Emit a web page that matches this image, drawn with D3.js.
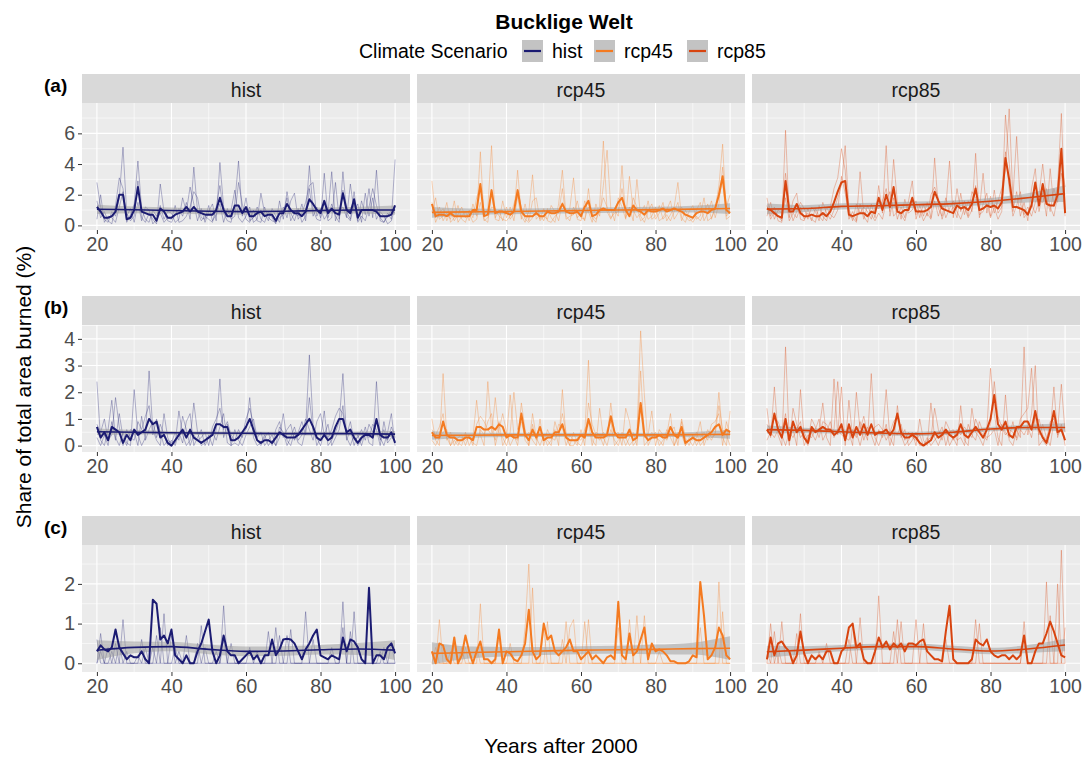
<!DOCTYPE html>
<html>
<head>
<meta charset="utf-8">
<script src="https://cdn.jsdelivr.net/npm/d3@7/dist/d3.min.js"></script>
<style>
  body { margin: 0; background: #fff; }
  text { font-family: "Liberation Sans", Arial, sans-serif; }
</style>
</head>
<body>
<div id="chart"></div>
<script>
// ---- data -------------------------------------------------------------
const scenarios = ["hist", "rcp45", "rcp85"]
const rowLabels = ["(a)", "(b)", "(c)"]
const xTicks = [20, 40, 60, 80, 100]
const yTicksA = [0, 2, 4, 6]
const yTicksB = [0, 1, 2, 3, 4]
const yTicksC = [0, 1, 2]
const trendYears = [20, 30, 40, 50, 60, 70, 80, 90, 100]
const years = d3.range(20, 101)

// (a) mean lines, years 20..100
const a_hist_mean = [1.2,0.9,0.5,0.5,0.6,0.9,2.0,2.0,0.4,0.5, 1.0,2.5,0.9,0.8,0.7,0.7,0.3,1.1,0.9,0.5, 0.5,0.7,0.8,0.9,1.2,0.9,1.2,0.9,0.8,0.7, 0.7,0.7,1.0,1.8,1.0,0.6,0.6,1.3,1.3,0.8, 1.2,0.6,0.6,0.8,0.9,0.6,0.7,0.7,0.3,0.8, 0.8,1.4,1.0,0.8,0.8,0.6,0.9,1.7,1.4,1.0, 0.8,1.6,0.8,1.1,0.8,0.7,2.1,1.0,0.8,1.7, 0.5,1.0,1.0,1.0,1.0,0.9,0.6,0.6,0.6,0.7, 1.3]
const a_rcp45_mean = [1.4,0.6,0.7,0.7,0.6,0.8,0.6,0.6,0.6,0.6, 0.6,1.0,1.0,2.7,0.6,0.7,2.3,0.8,0.9,0.9, 0.8,0.7,0.9,2.3,0.9,0.6,0.6,0.6,0.8,0.6, 0.6,0.9,0.8,0.8,0.9,1.4,0.9,0.8,0.8,0.9, 0.6,1.2,1.6,0.6,0.7,1.0,1.1,1.0,1.0,1.0, 1.5,1.8,1.0,0.6,1.3,1.0,0.9,0.7,1.0,0.9, 0.9,1.0,1.1,0.9,1.0,1.1,1.0,0.9,0.7,0.6, 0.5,0.8,0.9,0.9,0.8,1.0,1.1,2.0,3.2,1.0, 0.8]
const a_rcp85_mean = [1.1,1.0,0.8,0.6,0.5,2.9,0.9,0.9,1.4,0.8, 0.6,0.6,0.7,0.6,0.6,0.8,0.6,0.9,1.5,2.2, 2.8,2.9,0.7,0.6,0.7,0.8,0.8,0.6,0.9,0.8, 1.8,1.0,2.0,1.2,2.5,0.9,0.8,1.0,1.0,1.8, 0.9,0.9,0.9,1.0,1.2,2.2,1.6,1.1,1.0,0.9, 0.8,1.3,1.1,1.2,1.0,1.4,2.4,1.0,1.1,1.3, 1.2,1.3,1.1,1.5,4.4,3.0,1.2,1.2,1.1,1.0, 0.7,1.3,2.8,1.3,2.7,1.4,1.3,1.3,2.0,5.0, 0.8]

// (a) single runs
const a_hist_runs = [
  [2.8,1.2,0.4,0.2,0.9,0.6,1.8,5.1,0.8,0.3, 0.6,2.9,0.5,0.2,0.8,0.4,0.1,2.7,0.9,0.3, 0.2,0.7,1.1,0.6,1.5,0.4,3.8,0.9,0.3,0.6, 0.4,0.2,1.2,2.6,0.8,0.3,0.2,1.5,4.2,0.6, 1.8,0.3,0.5,1.2,0.4,0.2,0.9,0.5,0.1,1.6, 0.4,2.2,0.8,0.3,1.1,0.2,0.6,3.9,1.0,0.4, 0.3,3.4,0.5,1.4,0.6,0.2,3.5,0.9,0.4,2.2, 0.3,1.6,0.7,2.4,0.5,3.6,0.3,0.2,0.8,0.4, 4.3],
  [1.6,0.5,0.9,0.3,0.1,1.3,3.1,2.4,0.2,0.7, 1.4,4.2,1.1,0.4,0.2,1.0,0.6,1.3,0.4,0.9, 0.8,0.2,0.4,1.8,0.9,2.5,1.4,0.3,1.1,0.2, 0.9,1.4,0.3,4.1,1.2,0.7,1.0,2.3,0.5,0.2, 0.6,1.2,0.2,0.4,2.1,0.8,0.3,1.1,0.6,0.2, 1.2,0.5,1.6,2.1,0.4,0.8,1.5,2.6,2.8,0.6, 1.1,0.4,0.8,3.5,0.3,1.0,1.2,0.5,2.7,0.9, 1.4,0.2,2.1,0.6,1.8,0.4,0.9,0.6,0.1,0.3, 1.2],
  [0.4,2.0,0.2,0.6,0.5,0.2,1.2,2.2,0.6,1.1, 0.2,1.5,0.3,1.2,1.0,0.1,0.4,0.8,0.2,0.5, 0.4,1.3,0.2,0.3,0.6,1.2,2.2,1.8,0.5,0.4, 1.3,0.3,0.7,1.4,0.2,1.1,0.4,0.6,2.8,1.4, 0.4,0.2,1.0,0.3,0.2,1.2,0.5,0.3,0.2,0.5, 0.7,1.8,0.3,0.8,0.6,1.4,0.3,2.4,0.6,1.2, 0.5,1.6,0.3,0.5,2.8,0.4,2.3,0.6,0.3,1.4, 0.2,0.6,0.3,1.2,2.4,1.3,0.5,0.2,0.6,1.0, 0.8]
]
const a_rcp45_runs = [
  [2.9,0.5,1.2,0.3,0.8,0.4,1.6,0.2,0.6,0.9, 0.3,1.4,0.6,4.8,0.4,0.2,2.1,0.5,1.0,0.3, 1.2,0.4,0.8,3.6,0.6,0.2,0.9,3.3,0.4,0.7, 0.3,1.1,0.5,0.2,1.4,3.6,0.6,0.3,1.2,0.5, 0.8,0.3,2.4,0.5,0.2,1.3,5.5,0.9,0.4,1.0, 0.6,3.9,0.5,1.2,0.3,3.0,0.6,0.2,0.9,1.4, 0.4,0.8,1.5,0.3,0.7,1.2,2.8,0.5,0.2,0.9, 1.3,0.4,0.6,1.8,0.3,0.5,1.1,2.6,5.3,0.6, 0.9],
  [0.9,1.8,0.4,0.6,1.5,0.2,0.5,1.3,0.4,0.2, 1.0,0.5,1.8,2.6,0.7,1.1,5.2,0.4,0.3,1.6, 0.5,1.2,0.3,1.9,0.4,1.4,0.3,1.6,1.8,0.3, 0.6,0.4,1.3,0.9,0.3,1.5,0.8,1.1,3.1,0.4, 0.3,1.6,0.9,0.2,1.4,0.6,2.6,4.9,1.1,0.3, 1.8,1.2,0.4,3.2,1.0,0.5,0.8,1.3,0.4,0.6, 1.2,0.3,0.5,1.0,1.6,0.4,0.8,1.2,0.6,0.3, 0.4,1.0,1.5,0.3,0.8,1.6,0.5,1.4,3.8,1.2, 2.0],
  [1.5,0.2,0.8,1.1,0.3,0.9,0.3,0.7,1.2,0.5, 0.8,0.2,0.4,1.5,0.3,0.5,1.2,1.1,0.6,0.4, 0.3,0.6,1.4,2.2,1.2,0.4,0.2,0.5,0.9,0.4, 1.1,0.3,0.2,0.6,0.8,2.4,0.4,0.6,0.7,1.6, 0.5,0.4,1.2,0.7,0.4,0.9,1.8,1.2,0.5,0.8, 0.9,2.4,0.9,0.6,1.8,1.2,0.3,0.5,1.6,0.4, 0.6,1.3,0.4,0.7,0.3,0.9,1.5,0.3,1.0,0.5, 0.2,0.6,0.3,0.8,1.4,0.4,1.2,1.8,2.9,0.4, 0.6]
]
const a_rcp85_runs = [
  [1.8,0.6,1.2,0.3,0.2,6.2,0.5,1.6,2.1,0.4, 0.3,1.1,0.4,0.2,1.3,0.6,0.3,1.2,2.4,3.1, 5.0,3.6,0.4,0.9,0.3,3.5,0.6,0.2,1.4,0.5, 2.6,0.8,5.2,0.6,1.8,0.4,1.2,0.5,1.6,2.9, 0.4,1.3,0.6,1.5,0.5,4.4,1.1,0.6,1.8,0.8, 1.2,0.5,2.1,0.7,1.6,0.9,4.7,0.5,1.4,2.1, 0.6,2.3,0.8,1.2,7.2,4.1,0.9,2.2,0.6,1.5, 0.3,2.4,3.7,0.9,2.1,0.6,3.7,1.2,2.6,7.3, 1.0],
  [0.6,1.5,0.4,1.0,0.8,3.4,1.4,0.3,0.9,1.5, 1.1,0.4,1.2,0.9,0.3,1.5,0.8,0.4,1.0,1.8, 2.6,5.2,1.1,0.3,1.4,0.8,1.2,0.9,0.4,1.2, 1.1,1.6,2.4,0.9,4.3,1.5,0.4,1.7,0.8,1.0, 1.6,0.5,1.4,0.6,2.0,2.5,1.8,0.4,1.2,4.2, 0.5,2.4,0.9,1.6,0.6,2.2,1.8,1.0,3.4,0.8, 1.9,0.8,1.6,2.4,3.6,7.6,1.8,5.8,1.4,0.7, 1.2,0.6,1.5,2.0,4.0,1.8,0.9,2.4,1.5,4.2, 2.5],
  [1.3,0.4,0.9,0.6,0.3,1.8,0.3,0.8,0.5,1.2, 0.4,0.8,0.3,1.1,0.6,0.3,1.2,0.7,0.5,1.0, 3.2,2.1,0.6,0.5,0.2,1.4,0.4,1.3,0.7,0.3, 0.8,0.4,1.5,2.2,0.6,0.9,0.7,0.3,1.2,1.5, 0.7,1.0,0.3,0.8,0.4,1.6,0.6,1.4,0.5,1.1, 1.6,0.9,0.4,1.2,0.5,1.0,2.6,0.7,0.9,1.4, 0.5,1.2,0.4,0.9,4.8,2.4,0.6,1.3,2.2,0.5, 0.9,1.4,0.8,1.6,1.5,2.4,1.2,0.6,1.9,3.4, 0.6]
]

// (b) mean lines
const b_hist_mean = [0.7,0.3,0.5,0.2,0.7,0.6,0.5,0.1,0.4,0.2, 0.6,0.4,0.5,0.6,1.0,0.8,0.9,0.3,0.4,0.1, 0,0.2,0.4,0.6,0.3,0.6,0.3,0.2,0.1,0.2, 0.3,0.4,0.8,0.8,0.7,0.7,0.2,0.2,0.3,0.5, 0.7,1.0,0.6,0.2,0.1,0.2,0.2,0.1,0.3,0.5, 0.4,0.3,0.3,0.3,0.4,0.6,0.8,1.0,0.7,0.3, 0.2,0.4,0.2,0.3,0.7,1.0,1.0,0.5,0.6,0.3, 0.1,0.3,0.4,0.4,0.3,1.0,0.4,0.3,0.3,0.5, 0.1]
const b_rcp45_mean = [0.5,0.3,0.3,0.9,0.4,0.3,0.3,0.2,0.2,0.3, 0.3,0.2,0.7,0.7,0.6,0.6,0.7,0.6,0.8,0.7, 0.3,0.4,0.3,0.3,1.2,0.4,0.2,0.6,0.3,0.7, 0.2,0.3,0.3,0.5,0.5,0.8,0.3,0.2,0.2,0.2, 0.4,0.3,1.0,0.5,0.3,0.3,0.3,0.4,1.1,0.5, 0.3,0.3,0.3,0.6,0.2,0.3,1.6,0.4,0.2,0.3, 0.3,0.4,0.3,0.3,0.7,0.4,0.3,0.7,0.1,0.2, 0.3,0.2,0.2,0.3,0.4,0.5,0.7,0.8,0.4,0.6, 0.5]
const b_rcp85_mean = [0.6,0.4,1.2,0.6,0.3,1.0,0.2,0.9,0.5,0.7, 0.3,0.1,0.7,0.5,0.6,0.7,0.6,0.6,0.4,0.5, 0.8,0.2,0.8,0.3,0.7,0.4,0.8,0.4,0.8,0.4, 0.5,0.5,0.6,0.4,0.6,1.2,0.5,0.3,0.3,0.4, 0.3,0.1,0,0.1,0.2,0.5,0.3,0.4,0.6,0.4, 0.3,0.4,0.8,0.4,0.3,0.5,0.7,0.5,0.3,0.6, 1.0,1.9,0.8,0.6,0.9,0.4,0.3,0.7,0.7,0.9, 0.9,0.6,1.3,0.6,0.3,0.1,0.6,1.3,0.5,0.6, 0.2]

// (b) single runs
const b_hist_runs = [
  [2.4,0.2,0,0.6,1.7,0.3,0,0.5,0.1,0, 2.1,0.4,0,0.3,2.8,0.6,0.2,0,1.2,0.3, 0,0.1,1.3,0.4,0,0.2,1.6,0.5,0,0.1, 0.4,0,0.6,2.5,0.3,0.8,0,0.1,0,0.4, 0.6,1.8,0.3,0,0.1,0.4,0,0.2,0,0.3, 1.2,0.2,0,0.5,0.1,0,0.6,3.4,0.8,0, 0.3,1.3,0,0.2,0.5,0.9,2.7,0.3,0,0.4, 0,0.2,0.7,0.1,0,2.4,0.3,0,0.5,1.2, 0],
  [0.8,0.5,1.0,0.2,0.4,1.8,0.7,0,0.6,0.3, 0.2,0.9,0.6,1.1,1.5,0.4,1.0,0.5,0,0.2, 0.1,0.5,0.2,1.1,0.6,0,0.4,0.2,0.3,0.5, 0,0.7,1.0,1.4,0.6,0.9,0.4,0.2,0.6,0.3, 1.0,1.4,0.8,0.2,0,0.3,0.5,0,0.6,0.9, 0.3,0.6,0.8,0.2,0.5,0.9,0.4,1.8,0.5,0.3, 0,0.5,0.3,0.6,1.1,1.4,1.2,0.4,0.9,0.2, 0.3,0.6,0.2,0.8,0.5,1.0,0.2,0.6,0.1,0.3, 0.2],
  [0.3,0,0.4,0,0.9,0.2,1.2,0.3,0,0.6, 0.5,0,1.1,0.2,0.6,0.9,0.3,0.8,0.4,0, 0.2,0,0.5,0.1,0.9,1.2,0,0.3,0.6,0, 0.3,0.5,0.2,0.7,1.2,0.1,0,0.6,0.2,0, 0.4,0.7,1.0,0.3,0.5,0,0.2,0.4,0,0.7, 0.5,0,0.3,0.7,0.2,0.4,1.0,0.6,0.2,0.9, 1.2,0.4,0.8,0,0.3,0.6,1.5,0.2,0.6,0, 0.4,0,0.5,0.3,0.8,0.6,0,0.9,0.2,0.7, 0.3]
]
const b_rcp45_runs = [
  [1.0,0.2,0,2.7,0.3,0,0.4,0.1,0,0.5, 0,0.3,1.7,0.4,0,2.4,0.6,0.2,0.9,0, 0.3,1.9,0.4,0,1.1,0.2,0,1.2,0.3,0, 0.4,0,0.2,0.6,0,2.1,0.3,0,0.5,0.1, 0,0.4,3.2,0.2,0,1.4,0.3,0,0.6,0.2, 0,0.5,0.3,0,0.2,0.4,4.3,1.9,0,0.3, 0.5,0,0.2,0.4,1.2,0,0.3,0.9,0,0.2, 0,0.3,0.9,0,0.4,0.2,0.5,2.0,0.3,0, 1.3],
  [0.6,0.4,0.7,1.2,0.2,0.5,0,0.3,0.4,0, 0.4,0,0.8,1.1,0.9,0.6,0.4,1.8,0.5,0.3, 0,0.5,2.0,0.6,0.9,0.3,0.5,0.2,0,1.0, 0,0.6,0.3,0.2,0.8,0.7,0,0.4,0.2,0, 0.6,0,1.6,0.8,0.4,0.2,0.5,0.3,1.6,0.4, 0.5,0,1.4,0.9,0,0.2,2.8,0.3,0.4,1.3, 0,0.6,0.4,0.2,0.5,0.7,0,1.0,0.3,0, 0.4,0,0.3,0.5,0.2,0.8,0.9,1.2,0,0.9, 0.4],
  [0.2,0,0.3,0.5,0.6,0,0.2,0,0.3,0.2, 0.3,0.1,0,0.6,0.4,0.9,1.2,0,0.6,1.2, 0.5,0,0.3,0.2,1.6,0.6,0,0.8,0.2,0.5, 0.3,0.2,0,0.9,0.4,1.2,0.5,0,0,0.3, 0.2,0.6,0.9,0,0.5,0.4,0,0.6,0.9,0, 0.2,0.4,0,0.3,0.5,0,1.5,0,0.2,0.5, 0.3,0.2,0,0.6,0.3,0,0.5,0.4,0,0.3, 0.2,0.5,0,0.2,0.6,0.3,0.4,1.5,0.6,0.4, 0]
]
const b_rcp85_runs = [
  [1.4,0.3,2.2,0.4,0,3.7,0.2,0.6,0,2.1, 0.3,0,0.5,0.2,0.6,1.6,0.3,0,2.5,0.4, 2.2,0,1.7,0.3,0.5,0,0.6,0.2,2.7,0.3, 0,0.4,2.1,0.3,0,1.5,0.4,0,0.2,0.5, 0,1.0,0.2,0,1.6,0.3,0,0.4,0.6,0, 0.3,0,1.5,0.2,0,1.4,0.5,0.3,0,0.6, 2.9,1.2,0.3,0,1.9,0.2,0,0.6,0.3,3.7, 0.4,1.2,3.0,0,0.2,0,0.5,2.2,0.3,0.8, 0],
  [0.8,0.6,1.0,0.9,0.5,1.2,0,1.4,0.8,0.3, 0.5,0.2,1.0,0.7,0.3,0.9,0.8,0.5,0.6,2.4, 0.6,0.4,0.5,0,2.0,0.6,1.1,0.4,0.5,0.7, 0.8,0.6,0.2,0.5,0.9,1.1,0.3,0.6,0,0.2, 0.5,0,0,0.2,0.3,1.4,0.6,0.2,0.9,0.6, 0.2,0.6,0.4,0.7,0.5,0.3,1.0,0.6,0.4,0.2, 0.8,2.4,1.1,0.7,0.4,0.6,0.5,0.3,1.0,1.2, 1.4,2.9,0.6,1.0,0.4,0.2,0.9,1.0,0.6,2.3, 0.5],
  [0.2,0.5,0.3,0.6,0.4,0,0.5,0.3,0.6,0.9, 0,0.4,0.3,0.6,1.0,0.2,0.5,0.9,0.3,0.6, 0.4,0.3,0.2,0.6,0.3,0.9,0.2,0.7,0.4,0, 0.6,0.3,0.8,0,0.5,0.4,0.8,0.2,0.5,0.3, 0.2,0.4,0,0.3,0,0.2,0.4,0.7,0,0.5, 0.6,0.2,0.3,0,0.8,0.4,0.2,0.9,0.5,0.3, 0.4,0.6,0,0.8,0.5,0.3,0.9,0.2,0.6,0.4, 0.7,0.3,1.1,0.4,0.8,0.3,0,0.9,0.4,0.6, 0.3]
]

// (c) mean lines
const c_hist_mean = [0.3,0.45,0.35,0.3,0.4,0.85,0.4,0.25,0.1,0.2, 0.15,0.15,0.3,0.1,0,1.6,1.5,0.6,0.7,0.5, 0.85,0.2,0.1,0,0.2,0,0,0.3,0.5,0.8, 1.1,0.3,0,0.2,0.7,0.3,0.2,0.2,0,0.1, 0.2,0.3,0.1,0.2,0,0.2,0.2,0.6,0.2,0.35, 0.6,0.62,0.6,0.5,0.3,0.1,0.35,0.5,0.7,0.85, 0.2,0.15,0.1,0.2,0.15,0.1,0.65,0.3,0.6,0.55, 0.4,0.1,0,1.9,0,0.2,0.2,0.1,0.4,0.5, 0.25]
const c_rcp45_mean = [0.3,0,0.5,0.45,0.1,0,0.65,0,0.2,0.7, 0.3,0,0.3,0.55,0.1,0.1,0,0.1,0.85,0, 0.3,0.25,0.1,0.05,0.2,0.5,1.35,0.3,0.1,0.2, 1.0,0.6,0.7,0.3,0.2,0.3,0.4,0.6,0.3,0.3, 0.1,0.2,0.3,0.1,0.2,0.1,0,0.15,0.2,0.1, 1.55,0.2,0.1,0.75,0.2,0.3,0.6,0.9,0.1,0.5, 0.3,0.35,0.3,0.2,0.05,0.05,0,0,0,0.05, 0.2,0.15,2.05,1.2,0.1,0.2,0.4,0.9,0.7,0.2, 0.1]
const c_rcp85_mean = [0.1,0.65,0.2,0.5,0.55,0.4,0.3,0,0.2,0.8, 0.25,0,0.2,0.1,0.2,0.1,0.3,0.3,0,0, 0.3,0.4,0.9,1.0,0.4,0.5,0.1,0,0,0.3, 0.65,0.4,0.55,0.35,0.5,0.4,0.5,0.3,0.5,0.5, 0.45,0.55,0.6,0.3,0.2,0.1,0.1,0.05,0.8,1.45, 0.1,0,0,0,0,0.1,0.6,0.5,0.45,0.6, 0.3,0.2,0.15,0.2,0.2,0.1,0.2,0.1,0.2,0.7, 0,0,0.3,0.5,0.5,0.75,1.05,0.8,0.5,0.2, 0.15]

// (c) single runs
const c_hist_runs = [
  [0,0.75,0,0,0.3,0,0,1.1,0,0, 0,0.2,0,0,0,0.4,0,0,1.25,0, 0.7,0,0,0,0,0,0,0,0.95,0, 0,0,0.3,0,1.45,0,0,0,0,0, 0,0,0,0.3,0,0,0.8,0,0.9,0, 0,0,0.85,0,0,0,1.3,0,0,0, 0,0,0,0.4,0,0,1.55,0,0,1.3, 0,0,0,0,0,0,0.3,0,0,0.5, 0],
  [0.6,0,0,0.4,0,0.5,0,0,0.3,0, 0,0,0.6,0,0,0,0.7,0,0,0, 0,0,0.3,0,0.7,0,0,0,0,0.4, 0,0,0,0,0,0,0.5,0,0,0, 0,0.4,0,0,0,0,0,0,0,0, 0,0.7,0,0,0,0,0,0,0.6,0, 0,0,0,0,0,0,0,0,0.8,0, 0,0,0,0,0,0,0,0.4,0,0, 0],
  [0,0.3,0,0,0,0,0.5,0,0,0, 0,0,0,0.4,0,0,0,0.9,0,0, 0,0.4,0,0,0,0,0,0.5,0,0, 0,0,0,0,0.6,0,0,0,0,0, 0,0,0,0,0,0,0,0,0,0.7, 0,0,0,0,0,0,0,0,0,0, 0,0,0,0,0,0,0.9,0,0,0, 0,0,0,0,0,0,0,0,0,0, 0]
]
const c_rcp45_runs = [
  [0,0,1.1,0,0,0.3,0,0,0,0.4, 0,0,0,1.5,0,0,0,0,0.7,0, 0,0,0,0,0,0.9,2.5,0,0,0, 0,1.05,0,0,0,0,1.05,0,0,0, 0,1.05,0,0,0,0,0,0,0,0, 0,0,0,1.1,0,0,0,1.2,0,0, 0,0,0,0,0,0,0,0,0,0, 0,0,0,0,0,0,0,2.05,0,0, 0],
  [0,0.4,0,0,0,0,0.5,0,0,0, 0,0,0.4,0,0,0,0,0,0,0, 0,0,0,0,0,0,0,1.9,0,0, 0.9,0,0,0,0,0,0,0.9,1.1,0, 0,0,1.1,0,0,0,0,0,0,0, 0,0,0,0,0,1.2,0,0,0,0, 0,0.3,0,0,0,0,0,0,0,0, 0,0,0,0,0,0,0,0,1.3,0, 0],
  [0.3,0,0,0,0,0,0,0,0.4,0, 0,0,0,0,0,0,0,0,0,0, 0,0.5,0,0,0,0,0,0,0,0, 0,0,0,0,0,0.6,0,0,0,0, 0,0,0,0,0,0,0,0,0,0, 0.9,0,0,0,0,0,0,0,0,0, 0,0,0,0,0,0,0,0,0,0, 0,0,0.9,0,0,0,0,0,0,0, 0]
]
const c_rcp85_runs = [
  [0,1.0,0,0,1.05,0,0,0,0,1.25, 0,0,0,0,0.3,0,0,0,0,0, 0,0,0,1.0,0,0,0,0,0,0, 1.7,0,0,0,0,1.1,0,0,0,0, 1.1,0,0,0,0,0,0,0,0,0, 0,0,0,0,0,0,1.1,0,0,0, 0,0,0,0,0,0,0,0,0,1.05, 0,0,0,0,0,2.05,0,0,0,2.85, 0],
  [0.3,0,0.8,0,0,0,0,0,0.75,0, 0,0,0,0,0,0,0,0,0,0, 0,0,0,0,0,1.15,0,0,0,0, 0,0,0,0,0,0,1.05,0,0,0, 0,0,1.0,0,0,0,0,0,0,0, 0,0,0,0,0,0,0,1.0,0,0, 0,0,0,0,0,0,0,0,0,0, 0,0,0,0,0,0,0,0,2.0,0, 0.9],
  [0,0,0,0.4,0,0,0,0,0,0, 0,0,0,0,0,0,0.5,0,0,0, 0,0,0.6,0,0,0,0,0,0,0, 0,0,0,0,0.8,0,0,0,0,0, 0,0,0,0,0,0,0,0,0.6,0, 0,0,0,0,0,0,0,0,0,0, 0,0,0,0,0,0,0,0,0,0.7, 0,0,0,0,0,0,1.2,0,0,0, 0]
]

// smoothed trend and its confidence half-width, at trendYears
const a_hist_trend = [1.05,1.02,0.97,0.92,0.9,0.92,0.97,1.0,1.0]
const a_hist_band = [0.3,0.22,0.2,0.2,0.2,0.2,0.2,0.22,0.3]
const a_rcp45_trend = [0.85,0.88,0.9,0.94,0.97,1.0,1.03,1.06,1.1]
const a_rcp45_band = [0.35,0.22,0.18,0.18,0.18,0.18,0.18,0.22,0.35]
const a_rcp85_trend = [1.07,1.1,1.24,1.28,1.35,1.42,1.57,1.8,2.07]
const a_rcp85_band = [0.35,0.22,0.2,0.2,0.2,0.2,0.22,0.3,0.55]
const b_hist_trend = [0.52,0.5,0.48,0.47,0.46,0.45,0.45,0.45,0.43]
const b_hist_band = [0.12,0.08,0.07,0.07,0.07,0.07,0.07,0.08,0.12]
const b_rcp45_trend = [0.38,0.39,0.4,0.4,0.4,0.4,0.4,0.41,0.42]
const b_rcp45_band = [0.16,0.1,0.08,0.08,0.08,0.08,0.08,0.1,0.16]
const b_rcp85_trend = [0.6,0.57,0.52,0.47,0.44,0.5,0.62,0.68,0.68]
const b_rcp85_band = [0.15,0.1,0.08,0.08,0.08,0.08,0.08,0.1,0.16]
const c_hist_trend = [0.33,0.4,0.42,0.35,0.3,0.31,0.34,0.36,0.33]
const c_hist_band = [0.25,0.15,0.12,0.12,0.12,0.12,0.12,0.15,0.25]
const c_rcp45_trend = [0.25,0.27,0.29,0.31,0.33,0.34,0.35,0.37,0.38]
const c_rcp45_band = [0.28,0.15,0.12,0.1,0.1,0.1,0.12,0.15,0.3]
const c_rcp85_trend = [0.29,0.33,0.38,0.42,0.42,0.36,0.31,0.36,0.46]
const c_rcp85_band = [0.15,0.1,0.08,0.08,0.08,0.08,0.08,0.1,0.16]

// table built from the arrays above
const rows = [
  { ticks: yTicksA, minor: [1, 3, 5, 7], domain: [-0.3, 7.98], panels: [
    { mean: a_hist_mean, runs: a_hist_runs, trend: a_hist_trend, band: a_hist_band },
    { mean: a_rcp45_mean, runs: a_rcp45_runs, trend: a_rcp45_trend, band: a_rcp45_band },
    { mean: a_rcp85_mean, runs: a_rcp85_runs, trend: a_rcp85_trend, band: a_rcp85_band }] },
  { ticks: yTicksB, minor: [0.5, 1.5, 2.5, 3.5, 4.5], domain: [-0.24, 4.52], panels: [
    { mean: b_hist_mean, runs: b_hist_runs, trend: b_hist_trend, band: b_hist_band },
    { mean: b_rcp45_mean, runs: b_rcp45_runs, trend: b_rcp45_trend, band: b_rcp45_band },
    { mean: b_rcp85_mean, runs: b_rcp85_runs, trend: b_rcp85_trend, band: b_rcp85_band }] },
  { ticks: yTicksC, minor: [0.5, 1.5, 2.5], domain: [-0.22, 2.98], panels: [
    { mean: c_hist_mean, runs: c_hist_runs, trend: c_hist_trend, band: c_hist_band },
    { mean: c_rcp45_mean, runs: c_rcp45_runs, trend: c_rcp45_trend, band: c_rcp45_band },
    { mean: c_rcp85_mean, runs: c_rcp85_runs, trend: c_rcp85_trend, band: c_rcp85_band }] }
]

// ---- layout -----------------------------------------------------------
const W = 1088, H = 758
const colLeft = [82, 417, 752], panelW = 328
const rowTop = [74, 296, 516], stripH = 29, panelH = 127
const color = d3.scaleOrdinal().domain(scenarios).range(["#1b1b72", "#f47a20", "#d8440f"])

let svg = d3.select("#chart")
  .append("svg")
  .attr("width", W)
  .attr("height", H)
  .style("background", "#fff")

// title + legend
svg.append("text")
  .attr("x", 564).attr("y", 21)
  .attr("text-anchor", "middle").attr("dominant-baseline", "central")
  .style("font-size", "21px").style("font-weight", "bold").style("fill", "#000")
  .text("Bucklige Welt")

let legend = svg.append("g").attr("transform", "translate(0,51)")
legend.append("text")
  .attr("x", 359).attr("dominant-baseline", "central")
  .style("font-size", "19.5px").style("fill", "#000")
  .text("Climate Scenario")
let keyX = [522, 594, 687]
scenarios.forEach((s, i) => {
  let k = legend.append("g").attr("transform", "translate(" + keyX[i] + ",0)")
  k.append("rect").attr("x", 0).attr("y", -11).attr("width", 21).attr("height", 22).style("fill", "#c3c3c3")
  k.append("line").attr("x1", 2).attr("x2", 19).attr("y1", 0).attr("y2", 0)
    .style("stroke", color(s)).style("stroke-width", 2.2)
  k.append("text").attr("x", 30).attr("dominant-baseline", "central")
    .style("font-size", "19.5px").style("fill", "#000").text(s)
})

// axis titles
svg.append("text")
  .attr("transform", "translate(23,387) rotate(-90)")
  .attr("text-anchor", "middle").attr("dominant-baseline", "central")
  .style("font-size", "21px").style("fill", "#000")
  .text("Share of total area burned (%)")
svg.append("text")
  .attr("x", 561).attr("y", 745)
  .attr("text-anchor", "middle").attr("dominant-baseline", "central")
  .style("font-size", "21px").style("fill", "#000")
  .text("Years after 2000")

// ---- panels -----------------------------------------------------------
rows.forEach((row, r) => {
  let top = rowTop[r] + stripH
  let y = d3.scaleLinear().domain(row.domain).range([top + panelH, top])

  svg.append("text")
    .attr("x", 44).attr("y", rowTop[r] + 11)
    .attr("dominant-baseline", "central")
    .style("font-size", "19px").style("font-weight", "bold").style("fill", "#000")
    .text(rowLabels[r])

  row.panels.forEach((p, c) => {
    let left = colLeft[c]
    let x = d3.scaleLinear().domain([16, 104]).range([left, left + panelW])
    let g = svg.append("g")
    let col = color(scenarios[c])

    // strip
    g.append("rect").attr("x", left).attr("y", rowTop[r]).attr("width", panelW).attr("height", stripH)
      .style("fill", "#d9d9d9")
    g.append("text").attr("x", left + panelW / 2).attr("y", rowTop[r] + stripH / 2 + 1)
      .attr("text-anchor", "middle").attr("dominant-baseline", "central")
      .style("font-size", "19.5px").style("fill", "#1a1a1a").text(scenarios[c])

    // background and grid
    g.append("rect").attr("x", left).attr("y", top).attr("width", panelW).attr("height", panelH)
      .style("fill", "#ebebeb")
    g.selectAll(".gminy").data(row.minor).enter().append("line")
      .attr("x1", left).attr("x2", left + panelW).attr("y1", d => y(d)).attr("y2", d => y(d))
      .style("stroke", "#fff").style("stroke-width", 0.6)
    g.selectAll(".gminx").data([30, 50, 70, 90]).enter().append("line")
      .attr("y1", top).attr("y2", top + panelH).attr("x1", d => x(d)).attr("x2", d => x(d))
      .style("stroke", "#fff").style("stroke-width", 0.6)
    g.selectAll(".gmajy").data(row.ticks).enter().append("line")
      .attr("x1", left).attr("x2", left + panelW).attr("y1", d => y(d)).attr("y2", d => y(d))
      .style("stroke", "#fff").style("stroke-width", 1.1)
    g.selectAll(".gmajx").data(xTicks).enter().append("line")
      .attr("y1", top).attr("y2", top + panelH).attr("x1", d => x(d)).attr("x2", d => x(d))
      .style("stroke", "#fff").style("stroke-width", 1.1)

    let line = d3.line().x((d, i) => x(years[i])).y(d => y(d))

    // single runs
    g.selectAll(".run").data(p.runs).enter().append("path")
      .attr("d", line)
      .style("fill", "none").style("stroke", col)
      .style("stroke-width", 0.8).style("stroke-opacity", 0.4)

    // ribbon
    let area = d3.area().curve(d3.curveMonotoneX)
      .x((d, i) => x(trendYears[i]))
      .y0((d, i) => y(d - p.band[i]))
      .y1((d, i) => y(d + p.band[i]))
    g.append("path").datum(p.trend).attr("d", area)
      .style("fill", "#999").style("fill-opacity", 0.5)

    // mean run
    g.append("path").datum(p.mean).attr("d", line)
      .style("fill", "none").style("stroke", col).style("stroke-width", 2)
      .style("stroke-linejoin", "round")

    // trend
    let tline = d3.line().curve(d3.curveMonotoneX).x((d, i) => x(trendYears[i])).y(d => y(d))
    g.append("path").datum(p.trend).attr("d", tline)
      .style("fill", "none").style("stroke", col).style("stroke-width", 1.6)

    // x axis
    let xa = g.append("g").attr("transform", "translate(0," + (top + panelH) + ")")
      .call(d3.axisBottom(x).tickValues(xTicks).tickSize(4).tickPadding(3))
    xa.select(".domain").remove()
    xa.selectAll("line").style("stroke", "#333")
    xa.selectAll("text").style("font-size", "19.5px").style("fill", "#4d4d4d")
      .style("font-family", "'Liberation Sans', Arial, sans-serif")

    // y axis, first column only
    if (c == 0) {
      let ya = g.append("g").attr("transform", "translate(" + left + ",0)")
        .call(d3.axisLeft(y).tickValues(row.ticks).tickFormat(d3.format("d")).tickSize(4).tickPadding(3))
      ya.select(".domain").remove()
      ya.selectAll("line").style("stroke", "#333")
      ya.selectAll("text").style("font-size", "19.5px").style("fill", "#4d4d4d")
        .style("font-family", "'Liberation Sans', Arial, sans-serif")
    }
  })
})
</script>
</body>
</html>
